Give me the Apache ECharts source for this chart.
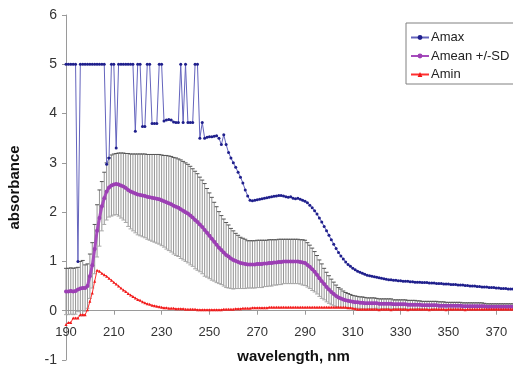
<!DOCTYPE html>
<html>
<head>
<meta charset="utf-8">
<script src="https://cdn.jsdelivr.net/npm/echarts@6/dist/echarts.min.js"></script>
<style>
  html, body { margin: 0; padding: 0; background: #fff; }
  #chart { width: 513px; height: 367px; }
</style>
</head>
<body>
<div id="chart"></div>
<script>
// wavelength 190..377 nm, 1 nm step
var startNm = 190;
var xTicks = [190, 210, 230, 250, 270, 290, 310, 330, 350, 370];
var yTicks = [-1, 0, 1, 2, 3, 4, 5, 6];

var amax = [
  5, 5, 5, 5, 5, 1.0, 5, 5, 5, 5,
  5, 5, 5, 5, 5, 5, 5, 2.97, 3.1, 5,
  5, 3.3, 5, 5, 5, 5, 5, 5, 5, 3.64,
  5, 5, 3.74, 3.74, 5, 5, 3.8, 3.8, 3.8, 5,
  5, 3.85, 3.87, 3.88, 3.87, 3.83, 3.82, 3.82, 5, 3.82,
  5, 3.82, 3.82, 3.82, 5, 5, 3.5, 3.82, 3.5, 3.52,
  3.53, 3.53, 3.54, 3.55, 3.5, 3.37, 3.57, 3.37, 3.21, 3.1,
  3.0, 2.91, 2.81, 2.71, 2.59, 2.45, 2.33, 2.24, 2.23, 2.24,
  2.25, 2.26, 2.27, 2.28, 2.29, 2.3, 2.31, 2.32, 2.33, 2.34,
  2.34, 2.33, 2.31, 2.3, 2.31, 2.28, 2.27, 2.28, 2.26, 2.24,
  2.22, 2.19, 2.14, 2.09, 2.03, 1.96, 1.88, 1.8, 1.71, 1.62,
  1.53, 1.44, 1.35, 1.26, 1.18, 1.11, 1.05, 0.99, 0.94, 0.9,
  0.86, 0.83, 0.8, 0.78, 0.76, 0.74, 0.72, 0.71, 0.7, 0.69,
  0.68, 0.67, 0.66, 0.65, 0.64, 0.63, 0.63, 0.62, 0.62, 0.61,
  0.61, 0.6, 0.6, 0.6, 0.59, 0.59, 0.58, 0.58, 0.58, 0.57,
  0.57, 0.57, 0.56, 0.56, 0.56, 0.55, 0.55, 0.55, 0.54, 0.54,
  0.54, 0.53, 0.53, 0.53, 0.52, 0.52, 0.52, 0.51, 0.51, 0.5,
  0.5, 0.5, 0.49, 0.49, 0.48, 0.48, 0.48, 0.47, 0.47, 0.47,
  0.46, 0.46, 0.45, 0.45, 0.45, 0.44, 0.44, 0.44
];

var amean = [
  0.39, 0.39, 0.4, 0.39, 0.4, 0.43, 0.45, 0.46, 0.46, 0.5,
  0.7, 0.92, 1.25, 1.62, 1.88, 2.12, 2.28, 2.42, 2.5, 2.54,
  2.56, 2.57, 2.56, 2.54, 2.52, 2.49, 2.45, 2.42, 2.4, 2.38,
  2.36, 2.35, 2.34, 2.33, 2.31, 2.3, 2.29, 2.28, 2.27, 2.26,
  2.24, 2.22, 2.2, 2.18, 2.16, 2.13, 2.11, 2.09, 2.06, 2.03,
  2.0, 1.97, 1.93, 1.89, 1.84, 1.8, 1.75, 1.7, 1.64, 1.58,
  1.52, 1.46, 1.4, 1.34, 1.28, 1.23, 1.18, 1.13, 1.1, 1.06,
  1.03, 1.01, 0.99, 0.97, 0.96, 0.95, 0.94, 0.94, 0.94, 0.94,
  0.95, 0.95, 0.95, 0.96, 0.96, 0.97, 0.97, 0.98, 0.98, 0.99,
  0.99, 1.0, 1.0, 1.0, 1.0, 1.0, 1.0, 1.0, 0.99, 0.98,
  0.97, 0.93, 0.89, 0.84, 0.79, 0.73, 0.66, 0.6, 0.54, 0.48,
  0.43, 0.38, 0.34, 0.3, 0.27, 0.25, 0.23, 0.21, 0.2, 0.19,
  0.18, 0.17, 0.17, 0.16, 0.16, 0.15, 0.15, 0.15, 0.15, 0.15,
  0.15, 0.14, 0.14, 0.14, 0.14, 0.14, 0.14, 0.13, 0.13, 0.13,
  0.13, 0.13, 0.13, 0.12, 0.12, 0.12, 0.12, 0.12, 0.12, 0.11,
  0.11, 0.11, 0.11, 0.11, 0.11, 0.11, 0.1, 0.1, 0.1, 0.1,
  0.1, 0.1, 0.1, 0.1, 0.1, 0.1, 0.09, 0.09, 0.09, 0.09,
  0.09, 0.09, 0.09, 0.09, 0.09, 0.09, 0.08, 0.08, 0.08, 0.08,
  0.08, 0.08, 0.08, 0.08, 0.08, 0.08, 0.08, 0.08
];

var asd = [
  0.47, 0.47, 0.47, 0.47, 0.47, 0.45, 0.55, 0.56, 0.47, 0.45,
  0.45, 0.46, 0.5, 0.53, 0.57, 0.5, 0.53, 0.58, 0.6, 0.62,
  0.62, 0.62, 0.64, 0.66, 0.68, 0.7, 0.74, 0.76, 0.78, 0.8,
  0.82, 0.83, 0.84, 0.85, 0.86, 0.87, 0.88, 0.89, 0.9, 0.91,
  0.92, 0.93, 0.95, 0.96, 0.97, 0.98, 0.99, 0.99, 1.0, 1.0,
  1.0, 1.0, 1.0, 0.99, 0.99, 0.98, 0.96, 0.95, 0.94, 0.9,
  0.87, 0.84, 0.8, 0.77, 0.73, 0.7, 0.68, 0.66, 0.64, 0.61,
  0.59, 0.56, 0.54, 0.52, 0.51, 0.5, 0.48, 0.48, 0.48, 0.48,
  0.48, 0.48, 0.48, 0.47, 0.47, 0.47, 0.47, 0.46, 0.46, 0.46,
  0.46, 0.45, 0.45, 0.45, 0.45, 0.45, 0.45, 0.45, 0.45, 0.46,
  0.46, 0.45, 0.44, 0.43, 0.41, 0.39, 0.37, 0.35, 0.32, 0.3,
  0.28, 0.26, 0.24, 0.22, 0.2, 0.19, 0.17, 0.16, 0.15, 0.14,
  0.13, 0.13, 0.12, 0.12, 0.12, 0.12, 0.11, 0.11, 0.11, 0.11,
  0.1, 0.1, 0.1, 0.1, 0.1, 0.1, 0.1, 0.09, 0.09, 0.09,
  0.09, 0.09, 0.09, 0.09, 0.09, 0.09, 0.09, 0.08, 0.08, 0.08,
  0.08, 0.08, 0.08, 0.08, 0.08, 0.08, 0.08, 0.08, 0.08, 0.07,
  0.07, 0.07, 0.07, 0.07, 0.07, 0.07, 0.07, 0.07, 0.07, 0.07,
  0.07, 0.07, 0.07, 0.07, 0.07, 0.06, 0.06, 0.06, 0.06, 0.06,
  0.06, 0.06, 0.06, 0.06, 0.06, 0.06, 0.06, 0.06
];

var amin = [
  -0.28, -0.24, -0.24, -0.15, -0.15, -0.15, -0.08, -0.08, -0.08, 0.02,
  0.19, 0.36, 0.6, 0.82, 0.8, 0.76, 0.73, 0.7, 0.66, 0.62,
  0.58, 0.54, 0.5, 0.46, 0.42, 0.39, 0.35, 0.32, 0.29, 0.26,
  0.23, 0.21, 0.18, 0.16, 0.14, 0.13, 0.11, 0.1, 0.09, 0.08,
  0.07, 0.06, 0.06, 0.05, 0.05, 0.05, 0.04, 0.04, 0.04, 0.04,
  0.03, 0.03, 0.03, 0.03, 0.03, 0.02, 0.02, 0.02, 0.02, 0.02,
  0.02, 0.02, 0.02, 0.02, 0.02, 0.02, 0.03, 0.03, 0.03, 0.03,
  0.03, 0.04, 0.04, 0.04, 0.05, 0.05, 0.05, 0.05, 0.06, 0.06,
  0.06, 0.06, 0.06, 0.06, 0.06, 0.07, 0.07, 0.07, 0.07, 0.07,
  0.07, 0.07, 0.07, 0.07, 0.07, 0.07, 0.07, 0.07, 0.07, 0.07,
  0.07, 0.07, 0.07, 0.07, 0.07, 0.07, 0.07, 0.07, 0.07, 0.07,
  0.07, 0.07, 0.07, 0.07, 0.07, 0.07, 0.07, 0.07, 0.06, 0.06,
  0.05, 0.04, 0.03, 0.03, 0.03, 0.03, 0.03, 0.03, 0.03, 0.03,
  0.03, 0.02, 0.03, 0.03, 0.03, 0.03, 0.02, 0.03, 0.03, 0.03,
  0.03, 0.03, 0.03, 0.02, 0.03, 0.03, 0.03, 0.03, 0.03, 0.03,
  0.03, 0.03, 0.02, 0.03, 0.03, 0.03, 0.03, 0.03, 0.03, 0.02,
  0.03, 0.03, 0.03, 0.03, 0.03, 0.03, 0.03, 0.02, 0.03, 0.03,
  0.03, 0.03, 0.03, 0.03, 0.03, 0.03, 0.03, 0.03, 0.03, 0.03,
  0.03, 0.03, 0.03, 0.03, 0.03, 0.03, 0.03, 0.03
];

var chart = echarts.init(document.getElementById('chart'));

function pairs(arr) {
  return arr.map(function (v, i) { return [startNm + i, v]; });
}
var errData = amean.map(function (m, i) {
  return [startNm + i, m - asd[i], m + asd[i]];
});

var font = 'Liberation Sans, Arial, sans-serif';

var option = {
  animation: false,
  backgroundColor: '#fff',
  textStyle: { fontFamily: font },
  grid: { left: 66, right: 0, top: 15, bottom: 7, outerBoundsMode: 'none' },
  legend: {
    orient: 'vertical',
    left: 406,
    top: 23,
    width: 100,
    padding: [8, 8, 3, 4],
    itemGap: 5.5,
    itemWidth: 18,
    itemHeight: 6,
    borderColor: '#808080',
    borderWidth: 1,
    backgroundColor: '#fff',
    textStyle: { fontFamily: font, fontSize: 13, color: '#222', padding: [0, 0, 0, -3] },
    data: ['Amax', 'Amean +/-SD', 'Amin']
  },
  xAxis: {
    type: 'value',
    min: 190,
    max: 377,
    name: 'wavelength, nm',
    nameLocation: 'middle',
    nameGap: -11,
    nameTextStyle: { fontFamily: font, fontSize: 15, fontWeight: 'bold', color: '#111', padding: [0, 0, 0, 8] },
    axisLine: { onZero: true, lineStyle: { color: '#9a9a9a', width: 1 } },
    axisTick: { customValues: xTicks, length: 4, lineStyle: { color: '#9a9a9a' } },
    axisLabel: { customValues: xTicks, fontFamily: font, fontSize: 13, color: '#333', margin: -34 },
    splitLine: { show: false }
  },
  yAxis: {
    type: 'value',
    min: -1,
    max: 6,
    interval: 1,
    name: 'absorbance',
    nameLocation: 'middle',
    nameGap: 44,
    nameTextStyle: { fontFamily: font, fontSize: 15, fontWeight: 'bold', color: '#111' },
    axisLine: { show: true, lineStyle: { color: '#9a9a9a', width: 1 } },
    axisTick: { show: true, length: 4, lineStyle: { color: '#9a9a9a' } },
    axisLabel: { fontFamily: font, fontSize: 14, color: '#333', margin: 9 },
    splitLine: { show: false }
  },
  series: [
    {
      name: 'SD',
      type: 'custom',
      z: 1,
      encode: { x: 0, y: [1, 2] },
      data: errData,
      renderItem: function (params, api) {
        var lo = api.coord([api.value(0), api.value(1)]);
        var hi = api.coord([api.value(0), api.value(2)]);
        return {
          type: 'group',
          children: [
            { type: 'line', shape: { x1: hi[0], y1: hi[1], x2: lo[0], y2: lo[1] },
              style: { stroke: '#959595', lineWidth: 1 } },
            { type: 'line', shape: { x1: hi[0] - 2, y1: hi[1], x2: hi[0] + 2, y2: hi[1] },
              style: { stroke: '#555', lineWidth: 1 } },
            { type: 'line', shape: { x1: lo[0] - 2, y1: lo[1], x2: lo[0] + 2, y2: lo[1] },
              style: { stroke: '#aaa', lineWidth: 1 } }
          ]
        };
      }
    },
    {
      name: 'Amax',
      type: 'line',
      z: 3,
      data: pairs(amax),
      symbol: 'circle',
      symbolSize: 3,
      showAllSymbol: true,
      lineStyle: { color: '#6464bd', width: 1 },
      itemStyle: { color: '#1f1f8c' }
    },
    {
      name: 'Amean +/-SD',
      type: 'line',
      z: 4,
      data: pairs(amean),
      symbol: 'circle',
      symbolSize: 4,
      showAllSymbol: true,
      lineStyle: { color: '#a64cbc', width: 3 },
      itemStyle: { color: '#9c3fb4' }
    },
    {
      name: 'Amin',
      type: 'line',
      z: 5,
      data: pairs(amin),
      symbol: 'triangle',
      symbolSize: 3,
      showAllSymbol: true,
      lineStyle: { color: '#ff3030', width: 1 },
      itemStyle: { color: '#f01818' }
    }
  ]
};

chart.setOption(option);
</script>
</body>
</html>
